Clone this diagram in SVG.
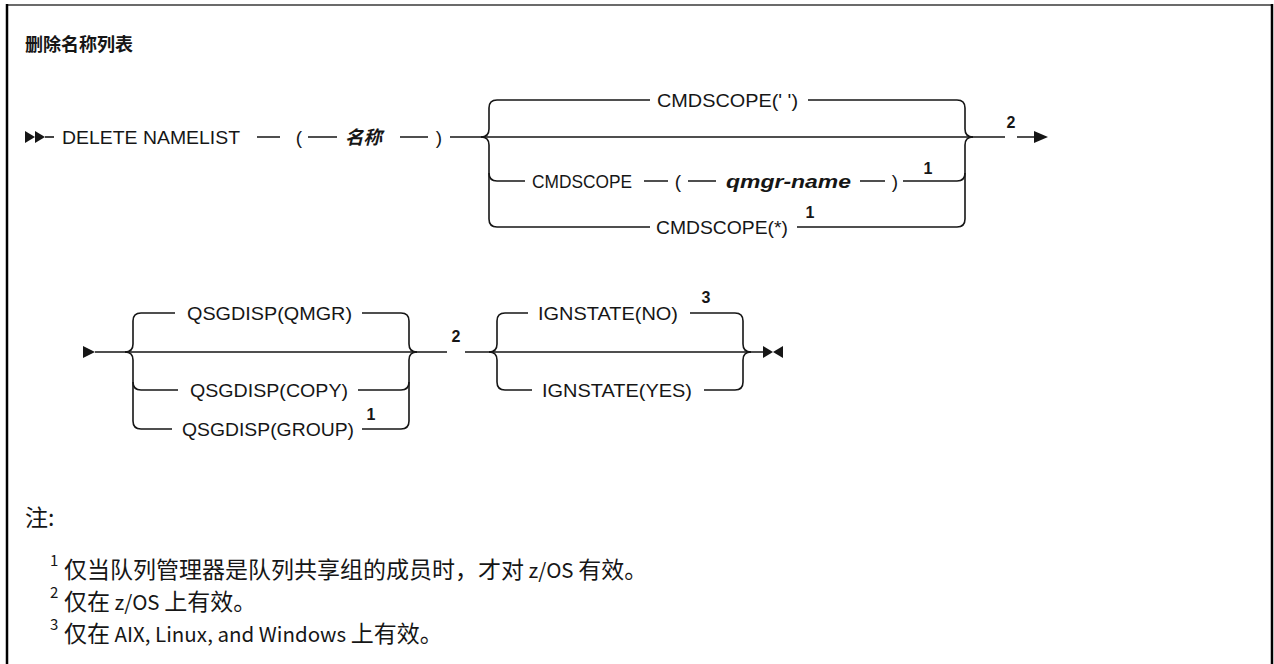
<svg xmlns="http://www.w3.org/2000/svg" width="1274" height="664" viewBox="0 0 1274 664">
<defs>
<style>
.t{font-family:"Liberation Sans",Arial,sans-serif;font-size:19px;fill:#161616}
.ti{font-family:"Liberation Sans",Arial,sans-serif;font-size:19px;font-style:italic;font-weight:bold;fill:#161616}
.sup{font-family:"Liberation Sans",Arial,sans-serif;font-size:16px;font-weight:bold;fill:#161616}
.cjk{font-family:"Noto Sans CJK SC",sans-serif;fill:#161616}
.note{font-family:"Noto Sans CJK SC",sans-serif;font-size:23px;fill:#161616}
.lat{font-size:20.5px}
.nsup{font-family:"Noto Sans CJK SC",sans-serif;font-size:15px;fill:#161616}
.ln{fill:none;stroke:#161616;stroke-width:1.6}
.mk{fill:#161616;stroke:none}
</style>
</defs>
<rect x="0" y="0" width="1274" height="664" fill="#fff"/>
<g id="frame">
<line x1="6" y1="5" x2="1273" y2="5" stroke="#6b6b6b" stroke-width="2"/>
<line x1="7" y1="4" x2="7" y2="664" stroke="#000" stroke-width="2.5"/>
<line x1="1272" y1="4" x2="1272" y2="664" stroke="#000" stroke-width="2.5"/>
</g>
<g id="title"><text class="cjk" x="25" y="51" font-size="18" font-weight="bold">删除名称列表</text></g>

<g id="connectors">
<polygon class="mk" points="25,131 25,143 35,137"/>
<polygon class="mk" points="35,131 35,143 45,137"/>
<path class="ln" d="M45,137H54"/>
<path class="ln" d="M257,137H280M308,137H337M400,137H428M450,137H973"/>
<path class="ln" d="M481,137Q489,137 489,129V108Q489,100 497,100H650M808,100H957Q965,100 965,108V129Q965,137 973,137"/>
<path class="ln" d="M481,137Q489,137 489,145V219Q489,227 497,227H650M797,227H957Q965,227 965,219V145Q965,137 973,137"/>
<path class="ln" d="M489,173Q489,181 497,181H525M644,181H668M688,181H716M860,181H885M903,181H957Q965,181 965,173"/>
<path class="ln" d="M973,137H1005M1017,137H1034"/>
<polygon class="mk" points="1034,131 1034,143 1048,137"/>
<polygon class="mk" points="83,346 83,358 95,352"/>
<path class="ln" d="M95,352H447M465,352H763"/>
<path class="ln" d="M125,352Q133,352 133,344V321Q133,313 141,313H175M362,313H401Q409,313 409,321V344Q409,352 417,352"/>
<path class="ln" d="M125,352Q133,352 133,360V421Q133,429 141,429H172M362,429H401Q409,429 409,421V360Q409,352 417,352"/>
<path class="ln" d="M133,382Q133,390 141,390H178M358,390H401Q409,390 409,382"/>
<path class="ln" d="M489,352Q497,352 497,344V321Q497,313 505,313H528M690,313H735Q743,313 743,321V344Q743,352 751,352"/>
<path class="ln" d="M489,352Q497,352 497,360V382Q497,390 505,390H532M704,390H735Q743,390 743,382V360Q743,352 751,352"/>
<polygon class="mk" points="763,346 763,358 773,352"/>
<polygon class="mk" points="783,346 783,358 773,352"/>
</g>

<g id="n-delete"><text class="t" x="62" y="144" textLength="178" lengthAdjust="spacingAndGlyphs">DELETE NAMELIST</text></g>
<g id="n-lparen1"><text class="t" x="299" y="144" text-anchor="middle">(</text></g>
<g id="n-name"><text class="cjk" x="345" y="144" font-size="18.5" font-weight="bold" font-style="italic">名称</text></g>
<g id="n-rparen1"><text class="t" x="439" y="144" text-anchor="middle">)</text></g>
<g id="n-cmdscope-blank"><text class="t" x="657" y="107" textLength="141" lengthAdjust="spacingAndGlyphs">CMDSCOPE(' ')</text></g>
<g id="n-cmdscope"><text class="t" x="532" y="188" textLength="100" lengthAdjust="spacingAndGlyphs">CMDSCOPE</text></g>
<g id="n-lparen2"><text class="t" x="678" y="188" text-anchor="middle">(</text></g>
<g id="n-qmgr"><text class="ti" x="726" y="188" textLength="125" lengthAdjust="spacingAndGlyphs">qmgr-name</text></g>
<g id="n-rparen2"><text class="t" x="895" y="188" text-anchor="middle">)</text><text class="sup" x="928" y="174" text-anchor="middle">1</text></g>
<g id="n-cmdscope-star"><text class="t" x="656" y="234" textLength="132" lengthAdjust="spacingAndGlyphs">CMDSCOPE(*)</text><text class="sup" x="810" y="218" text-anchor="middle">1</text></g>
<g id="n-note2a"><text class="sup" x="1011" y="128" text-anchor="middle">2</text></g>

<g id="n-qmgr-disp"><text class="t" x="187" y="320" textLength="165" lengthAdjust="spacingAndGlyphs">QSGDISP(QMGR)</text></g>
<g id="n-copy-disp"><text class="t" x="190" y="397" textLength="158" lengthAdjust="spacingAndGlyphs">QSGDISP(COPY)</text></g>
<g id="n-group-disp"><text class="t" x="182" y="436" textLength="172" lengthAdjust="spacingAndGlyphs">QSGDISP(GROUP)</text><text class="sup" x="371" y="420" text-anchor="middle">1</text></g>
<g id="n-note2b"><text class="sup" x="456" y="342" text-anchor="middle">2</text></g>
<g id="n-ign-no"><text class="t" x="538" y="320" textLength="140" lengthAdjust="spacingAndGlyphs">IGNSTATE(NO)</text><text class="sup" x="706" y="303" text-anchor="middle">3</text></g>
<g id="n-ign-yes"><text class="t" x="542" y="397" textLength="150" lengthAdjust="spacingAndGlyphs">IGNSTATE(YES)</text></g>

<g id="notes">
<text class="note" x="25" y="526">注:</text>
<text class="nsup" x="50" y="566">1</text>
<text class="note" x="64" y="578">仅当队列管理器是队列共享组的成员时，才对<tspan class="lat"> z/OS </tspan>有效。</text>
<text class="nsup" x="50" y="598">2</text>
<text class="note" x="64" y="610">仅在<tspan class="lat"> z/OS </tspan>上有效。</text>
<text class="nsup" x="50" y="630">3</text>
<text class="note" x="64" y="642">仅在<tspan class="lat"> AIX, Linux, and Windows </tspan>上有效。</text>
</g>
</svg>
